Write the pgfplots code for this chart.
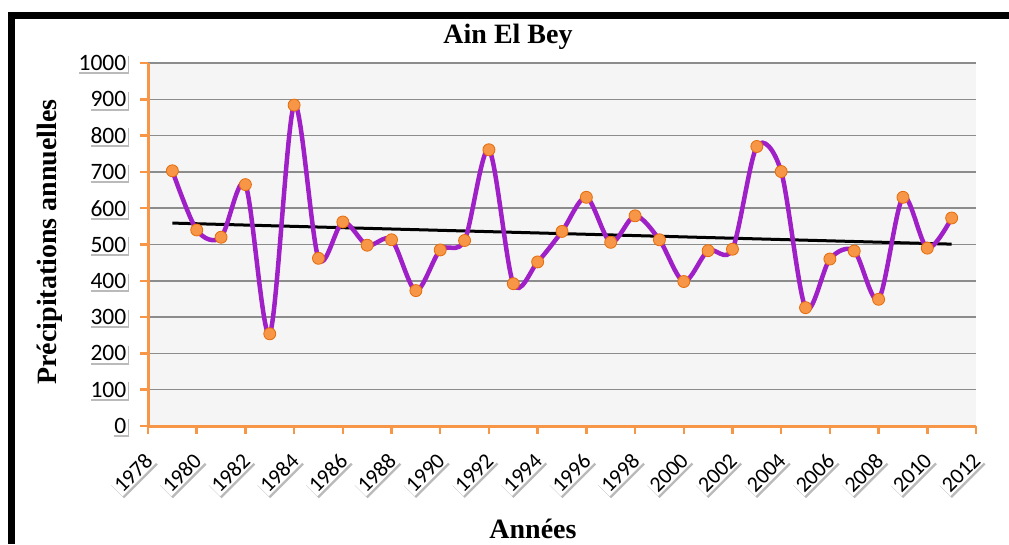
\documentclass[border=0pt]{standalone}
\usepackage{fontspec}
\setmainfont{Liberation Serif}
\newfontfamily\carlito{Carlito}
\usepackage{pgfplots}
\pgfplotsset{compat=1.18}
\usetikzlibrary{shadows}
\definecolor{xlorange}{RGB}{247,150,70}
\definecolor{xlorangedk}{RGB}{228,108,10}
\definecolor{xlpurple}{RGB}{160,32,200}
\definecolor{plotbg}{RGB}{245,245,245}
\definecolor{gridgray}{RGB}{140,140,140}

\pgfplotstableread{
year value
1979 703
1980 540
1981 520
1982 665
1983 254
1984 884
1985 462
1986 562
1987 498
1988 513
1989 373
1990 485
1991 511
1992 761
1993 392
1994 452
1995 536
1996 630
1997 506
1998 579
1999 513
2000 398
2001 483
2002 487
2003 770
2004 701
2005 326
2006 460
2007 482
2008 349
2009 630
2010 490
2011 573
}\rainfall

\begin{document}
\begin{tikzpicture}
\useasboundingbox (0pt,0pt) rectangle (1009pt,544pt);
\fill[white] (0pt,0pt) rectangle (1009pt,544pt);
\fill[black] (8pt,0pt) rectangle (15pt,532pt);
\fill[black] (8pt,525pt) rectangle (1009pt,532pt);
\begin{axis}[
  at={(148pt,118pt)}, anchor=south west,
  width=828pt, height=363pt, scale only axis,
  xmin=1978, xmax=2012, ymin=0, ymax=1000,
  xtick={1978,1980,...,2012}, ytick={0,100,...,1000},
  axis x line*=bottom, axis y line*=left,
  axis line style={xlorange, line width=3pt},
  tick style={xlorange, line width=2.5pt},
  major tick length=8pt, tick align=outside,
  axis background/.style={fill=plotbg},
  ymajorgrids, xmajorgrids=false,
  major grid style={gridgray, line width=1.5pt},
  /pgf/number format/1000 sep={},
  /pgf/number format/assume math mode=true,
  ticklabel style={font=\carlito\fontsize{23.5}{25}\selectfont, fill=white, inner sep=1.5pt,
     drop shadow={shadow xshift=1.5pt, shadow yshift=-2pt, fill=black!45, opacity=0.6}},
  yticklabel style={xshift=-12pt},
  xticklabel style={xshift=2pt, yshift=-22pt, rotate=45, anchor=east, font=\carlito\fontsize{22}{24}\selectfont},
  clip=false,
]
\addplot[black, line width=3pt] coordinates {(1979,559) (2011,501)};
\addplot[xlpurple, line width=4.5pt, smooth, tension=0.5,
  mark=*, mark size=6pt,
  mark options={fill=xlorange, draw=xlorangedk, line width=0.8pt}] table[x=year, y=value] {\rainfall};
\end{axis}
\node[font=\bfseries\fontsize{28}{30}\selectfont, anchor=base] at (508pt,500pt) {Ain El Bey};
\node[font=\bfseries\fontsize{28}{30}\selectfont, rotate=90] at (50pt,302pt) {Précipitations annuelles};
\node[font=\bfseries\fontsize{28}{30}\selectfont, anchor=base] at (533pt,6pt) {Années};
\end{tikzpicture}
\end{document}
